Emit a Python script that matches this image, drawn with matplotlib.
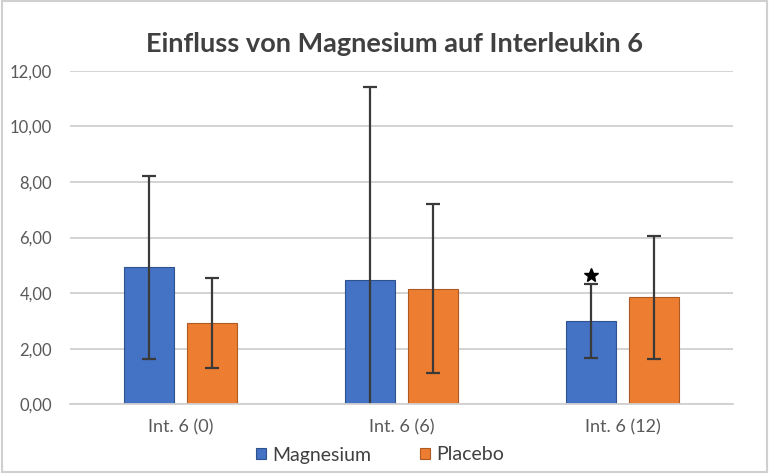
"""
Einfluss von Magnesium auf Interleukin 6 - Balkendiagramm mit Fehlerbalken
"""
import matplotlib.pyplot as plt
from matplotlib.patches import Rectangle
import numpy as np

# Daten
categories = ["Int. 6 (0)", "Int. 6 (6)", "Int. 6 (12)"]
magnesium = [4.93, 4.48, 2.99]
magnesium_err = [3.29, 6.95, 1.33]
placebo = [2.91, 4.15, 3.85]
placebo_err = [1.62, 3.04, 2.21]
yticks = [0, 2, 4, 6, 8, 10, 12]

plt.rcParams['font.family'] = ['Lato', 'DejaVu Sans']

fig = plt.figure(figsize=(7.69, 4.74), dpi=100)
ax = fig.add_axes([70/769, 1-404.3/474, 663/769, (404.3-70.7)/474])

x = np.arange(len(categories))
w = 0.226
off = 0.141
err_kw = dict(ecolor="#3a3a3a", elinewidth=1.6, capsize=5, capthick=1.6)

ax.bar(x - off, magnesium, w, color="#4472C4", edgecolor="#2F528F", linewidth=0.8,
       yerr=magnesium_err, error_kw=err_kw, label="Magnesium", zorder=2)
ax.bar(x + off, placebo, w, color="#ED7D31", edgecolor="#AE5A21", linewidth=0.8,
       yerr=placebo_err, error_kw=err_kw, label="Placebo", zorder=2)

# Signifikanz-Stern
ax.plot(x[2] - off, magnesium[2] + magnesium_err[2] + 0.34, marker="*",
        color="black", markersize=10, zorder=3)

ax.set_xlim(-0.5, 2.5)
ax.set_ylim(0, 12)
ax.set_yticks(yticks)
ax.set_yticklabels([f"{v:.2f}".replace(".", ",") for v in yticks])
ax.set_xticks(x)
ax.set_xticklabels(categories)
ax.tick_params(axis="y", length=0, pad=13, labelsize=12, labelcolor="#595959")
ax.tick_params(axis="x", length=0, pad=11, labelsize=13, labelcolor="#595959")
ax.grid(axis="y", color="#d0d0d0", linewidth=1.3, zorder=0)
ax.set_axisbelow(True)
for s in ["top", "right", "left"]:
    ax.spines[s].set_visible(False)
ax.spines["bottom"].set_color("#d0d0d0")
ax.spines["bottom"].set_linewidth(1.3)

fig.text(0.513, 1-43.5/474, "Einfluss von Magnesium auf Interleukin 6", ha="center",
         va="center", fontsize=19.5, fontweight="bold", color="#404040")

fig.legend(loc="center", bbox_to_anchor=(0.494, 1-455/474), ncol=2, frameon=False,
           fontsize=14, handlelength=0.52, handleheight=0.52, handletextpad=0.33,
           columnspacing=2.5, labelcolor="#404040")

# Rahmen des Diagramms
fig.patches.append(Rectangle((0.002, 0.004), 0.995, 0.993, transform=fig.transFigure,
                             fill=False, edgecolor="#d0d0d0", linewidth=1.5))

fig.savefig("out.png", dpi=100)
